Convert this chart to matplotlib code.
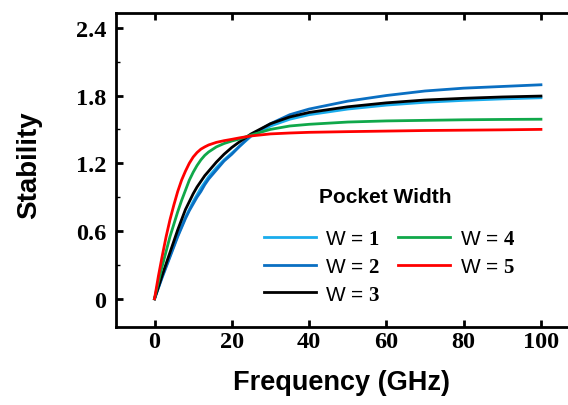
import matplotlib.pyplot as plt

plt.rcParams['mathtext.fontset'] = 'custom'
plt.rcParams['mathtext.bf'] = 'Liberation Serif:bold'
plt.rcParams['mathtext.rm'] = 'Liberation Serif'

# Frequency sample points (GHz)
freq = [0, 1, 2, 3, 4, 5, 6, 7, 8, 9, 10, 11, 12, 13, 14, 16, 18, 20, 22, 25, 30, 35, 40,
        50, 60, 70, 80, 90, 100]

# Stability for each pocket width
w1 = [0, 0.10, 0.20, 0.29, 0.38, 0.47, 0.56, 0.64, 0.72, 0.79, 0.86, 0.92, 0.98, 1.03, 1.08,
      1.16, 1.23, 1.29, 1.35, 1.44, 1.53, 1.59, 1.63, 1.68, 1.715, 1.74, 1.757, 1.77, 1.78]
w2 = [0, 0.095, 0.19, 0.28, 0.37, 0.46, 0.55, 0.63, 0.71, 0.78, 0.84, 0.90, 0.95, 1.01, 1.06,
      1.14, 1.22, 1.28, 1.35, 1.45, 1.55, 1.63, 1.68, 1.75, 1.80, 1.84, 1.865, 1.88, 1.895]
w3 = [0, 0.105, 0.21, 0.31, 0.41, 0.51, 0.61, 0.70, 0.79, 0.86, 0.93, 0.99, 1.04, 1.09, 1.13,
      1.21, 1.28, 1.34, 1.39, 1.46, 1.55, 1.61, 1.65, 1.70, 1.735, 1.76, 1.775, 1.787, 1.795]
w4 = [0, 0.15, 0.29, 0.42, 0.55, 0.66, 0.77, 0.87, 0.96, 1.05, 1.12, 1.18, 1.23, 1.27, 1.30,
      1.345, 1.375, 1.397, 1.415, 1.45, 1.50, 1.53, 1.545, 1.565, 1.575, 1.58, 1.585, 1.588,
      1.59]
w5 = [0, 0.20, 0.38, 0.55, 0.70, 0.83, 0.95, 1.05, 1.13, 1.20, 1.255, 1.295, 1.325, 1.345,
      1.362, 1.385, 1.40, 1.412, 1.425, 1.442, 1.46, 1.468, 1.474, 1.48, 1.485, 1.49, 1.493,
      1.496, 1.50]

series = [w1, w2, w3, w4, w5]
labels = ['1', '2', '3', '4', '5']
colors = ['#1AACEC', '#0A6FC2', '#000000', '#10A84A', '#FF0000']

xticks = [0, 20, 40, 60, 80, 100]
yticks = [0, 0.6, 1.2, 1.8, 2.4]

fig = plt.figure(figsize=(5.68, 4.06), dpi=100)
ax = fig.add_axes([0.204, 0.192, 0.796, 0.7734])

for ys, lab, c in zip(series, labels, colors):
    ax.plot(freq, ys, color=c, lw=2, label='W = $\\mathbf{' + lab + '}$')

ax.set_xlim(-10, 107)
ax.set_ylim(-0.25, 2.53)
ax.spines['right'].set_visible(False)
for s in ['left', 'bottom', 'top']:
    ax.spines[s].set_linewidth(2)

ax.set_xticks(xticks)
ax.set_yticks(yticks)
ax.set_yticks([0.3, 0.9, 1.5, 2.1], minor=True)
ax.set_xticklabels([str(t) for t in xticks])
ax.set_yticklabels(['0', '0.6', '1.2', '1.8', '2.4'])
ax.tick_params(axis='x', direction='in', top=True, length=5, width=2, pad=3)
ax.tick_params(axis='y', which='major', direction='in', length=5, width=2, pad=7)
ax.tick_params(axis='y', which='minor', direction='in', length=3, width=1)
for t in ax.get_xticklabels() + ax.get_yticklabels():
    t.set_fontfamily('Liberation Serif')
    t.set_fontweight('bold')
    t.set_fontsize(17.5)

ax.set_xlabel('Frequency (GHz)', fontfamily='Liberation Sans', fontweight='bold',
              fontsize=19.5, labelpad=12)
ax.set_ylabel('Stability', fontfamily='Liberation Sans', fontweight='bold', fontsize=20)
ax.yaxis.set_label_coords(-0.164, 0.52)

ax.text(0.595, 0.417, 'Pocket Width', transform=ax.transAxes, ha='center', va='center',
        fontfamily='Liberation Sans', fontweight='bold', fontsize=15)
leg = ax.legend(loc='upper left', bbox_to_anchor=(0.327, 0.312), ncol=2, frameon=False,
                prop={'family': 'Liberation Sans', 'size': 15}, handlelength=2.5,
                handletextpad=0.45, columnspacing=0.85, labelspacing=0.42,
                borderpad=0, borderaxespad=0)

fig.savefig('out.png', dpi=100)
